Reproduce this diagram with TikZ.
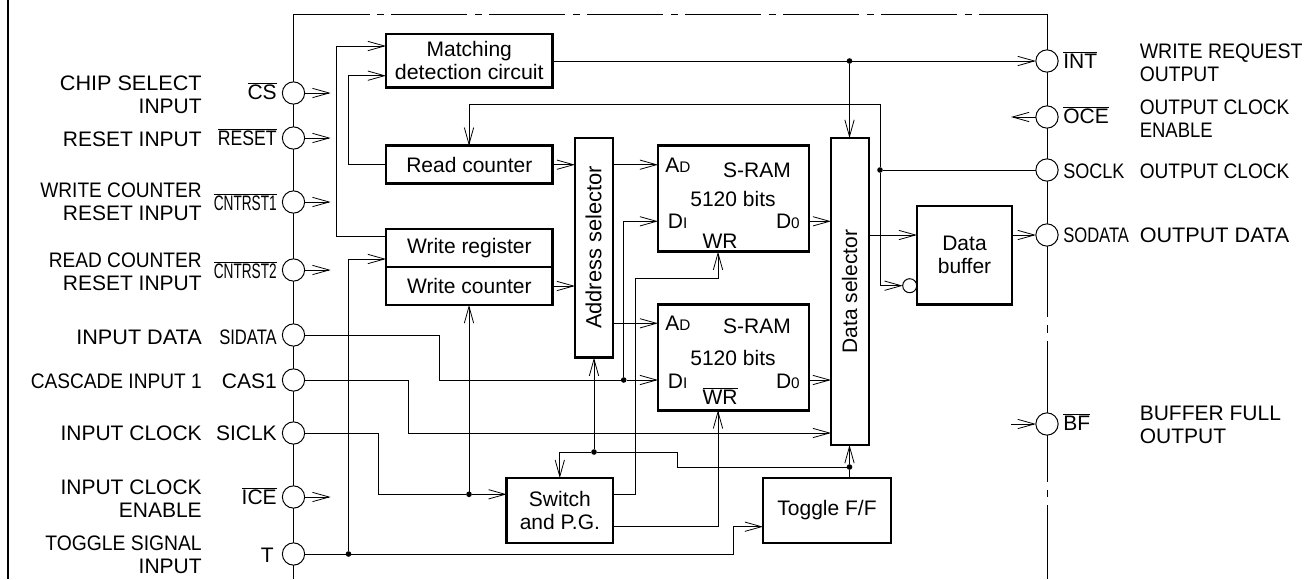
\documentclass[tikz,border=0pt]{standalone}
\usepackage{fontspec}
\setmainfont{Liberation Sans}
\usetikzlibrary{arrows.meta}
\newcommand{\ovl}[1]{$\overline{\hbox{#1}}$}
\newcommand{\sq}[2]{\scalebox{#1}[1]{#2}}
\newcommand{\smf}[1]{{\fontsize{11.5}{12}\selectfont #1}}
\tikzset{
  wire/.style={line width=.75pt},
  arr/.style={wire,-{Straight Barb[length=12.5pt,width=7pt,line width=.6pt]}},
  box/.style={draw,line width=2pt,inner sep=0pt,outer sep=0pt,align=center,fill=white},
  pin/.style={draw,circle,line width=.75pt,fill=white,minimum size=16.7pt,inner sep=0pt,outer sep=0pt},
  inv/.style={draw,circle,line width=.75pt,fill=white,minimum size=10.5pt,inner sep=0pt,outer sep=0pt},
  dot/.style={circle,fill=black,minimum size=4.2pt,inner sep=0pt,outer sep=0pt},
  lblr/.style={anchor=east,align=right,inner sep=0pt},
  lbll/.style={anchor=west,align=left,inner sep=0pt},
  txt/.style={inner sep=0pt},
}
\newcommand{\bx}[6]{%
  \pgfmathsetmacro\bw{(#4-#2)*.75}\pgfmathsetmacro\bh{(#5-#3)*.75}%
  \node[box,minimum width=\bw pt,minimum height=\bh pt] (#1) at ({(#2+#4)/2},{(#3+#5)/2}) {#6};}
\begin{document}
\begin{tikzpicture}[x=.75pt,y=-.75pt,font=\fontsize{15.75}{17.25}\selectfont]
\useasboundingbox[fill=white] (0,0) rectangle (1313,579);
% frame
\coordinate (fa) at (8,0); \coordinate (fb) at (8,579);
\draw[line width=2pt] (fa) -- (fb);
% chip outline
\coordinate (cTL) at (293.5,14); \coordinate (cBL) at (293.5,579); \coordinate (cTR) at (1047,14);
\draw[wire] (cBL) -- (cTL);
\draw[wire,dash pattern=on 57pt off 5.6pt on 5.25pt off 5.6pt] (cTL) -- (cTR);
\coordinate (r1) at (1047,317); \coordinate (r2) at (1047,325); \coordinate (r3) at (1047,333);
\coordinate (r4) at (1047,341); \coordinate (r5) at (1047,482); \coordinate (r6) at (1047,490);
\coordinate (r7) at (1047,497); \coordinate (r8) at (1047,505); \coordinate (r9) at (1047,579);
\draw[wire] (cTR) -- (r1) (r2) -- (r3) (r4) -- (r5) (r6) -- (r7) (r8) -- (r9);
% pins
\node[pin] (pCS) at (293.5,93) {};
\node[pin] (pRES) at (293.5,138) {};
\node[pin] (pC1) at (293.5,202) {};
\node[pin] (pC2) at (293.5,270) {};
\node[pin] (pSID) at (293.5,335) {};
\node[pin] (pCAS) at (293.5,380) {};
\node[pin] (pSIC) at (293.5,433) {};
\node[pin] (pICE) at (293.5,497) {};
\node[pin] (pT) at (293.5,554) {};
\node[pin] (pINT) at (1047,61) {};
\node[pin] (pOCE) at (1047,117) {};
\node[pin] (pSOC) at (1047,170) {};
\node[pin] (pSOD) at (1047,235) {};
\node[pin] (pBF) at (1047,424) {};
% blocks
\bx{match}{386}{34}{552.6}{87.7}{Matching\\\sq{1.02}{detection circuit}}
\bx{rcnt}{386}{145.7}{552.6}{183.7}{Read counter}
\bx{wreg}{386}{229}{552.6}{267}{Write register}
\bx{wcnt}{386}{267}{552.6}{305}{Write counter}
\bx{asel}{575}{138}{613}{357.7}{}
\bx{ram1}{658}{145.7}{809}{251.7}{}
\bx{ram2}{658}{304.7}{809}{410.3}{}
\bx{dsel}{831}{138}{869}{445}{}
\bx{dbuf}{917}{206}{1012}{304.7}{Data\\buffer}
\bx{swpg}{506.7}{478}{613}{543}{Switch\\and P.G.}
\bx{togg}{763}{478}{891}{543}{Toggle F/F}
\node[txt,rotate=90] (aselT) at (593.5,247.5) {\fontsize{16.4}{17}\selectfont Address selector};
\node[txt,rotate=90] (dselT) at (849.5,291.7) {Data selector};
\node[inv] (bub) at (909.7,285.7) {};
% junction coordinates
\coordinate (mA) at (386,46); \coordinate (mB) at (386,75.7);
\coordinate (wA) at (386,236.3); \coordinate (wB) at (386,259);
\coordinate (vA) at (336.7,0); \coordinate (vB) at (348.5,0);
\coordinate (aW) at (575,286); \coordinate (aR1) at (613,164.7); \coordinate (aR2) at (613,323.3);
\coordinate (dT) at (849.5,138); \coordinate (dB) at (849.5,445);
\coordinate (dC) at (831,433); \coordinate (d1) at (831,221.3); \coordinate (d2) at (831,380);
\coordinate (dO) at (869,235); \coordinate (rT) at (469,145.7);
\coordinate (fbR) at (880,104.3);
\coordinate (ram1A) at (658,164.7); \coordinate (ram2A) at (658,323.3);
\coordinate (ram1D) at (658,221.3); \coordinate (ram2D) at (658,380);
\coordinate (ram1O) at (809,221.3); \coordinate (ram2O) at (809,380);
\coordinate (ram1W) at (718,251.7); \coordinate (ram2W) at (718,410.3);
\coordinate (swA) at (506.7,494.3); \coordinate (swO1) at (613,494.3); \coordinate (swO2) at (613,526.7);
\coordinate (swT) at (559.8,478); \coordinate (tgA) at (763,526.7);
\coordinate (tgT) at (849.5,478); \coordinate (bufI) at (917,235); \coordinate (bufO) at (1012,235);
\coordinate (oceE) at (1011,117); \coordinate (bfE) at (1011,424);
\coordinate (aB) at (594,357.7); \coordinate (wcB) at (469,305);
% dots
\node[dot] (jM) at (849.5,61) {};
\node[dot] (jSC) at (880,170) {};
\node[dot] (jT) at (348.5,554) {};
\node[dot] (jD) at (623.7,380) {};
\node[dot] (jCk) at (469,494.3) {};
\node[dot] (jSw) at (594,452) {};
\node[dot] (jTg) at (849.5,467) {};
% stubs
\foreach \p in {pCS,pRES,pC1,pC2,pICE}
  \draw[arr] (\p.east) -- ++(26,0);
\draw[arr] (pOCE.west) -- (oceE);
\draw[arr] (bfE) -- (pBF.west);
% connectors
\draw[arr] (wA) -| (vA |- mA) -- (mA);
\draw[arr] (rcnt.west) -- ++(-38,0) |- (mB);
\draw[arr] (jT) -- (vB |- wB) -- (wB);
\draw[wire] (pT.east) -- (jT);
\draw[arr] (jT) -- (733,554) |- (tgA);
\draw[wire] (match.east |- jM) -- (jM);
\draw[arr] (jM) -- (pINT.west);
\draw[arr] (jM) -- (dT);
\draw[arr] (jSC |- bub) -- (bub.west);
\draw[wire] (fbR) -- (jSC);
\draw[wire] (jSC) -- (jSC |- bub);
\draw[arr] (fbR) -- (rT |- fbR) -- (rT);
\draw[wire] (pSOC.west) -- (jSC);
\draw[arr] (rcnt.east) -- (rcnt.east -| asel.west);
\draw[arr] (wcnt.east) -- (aW);
\draw[arr] (aR1) -- (ram1A);
\draw[arr] (aR2) -- (ram2A);
\draw[wire] (pSID.east) -- (439,335) -- (439,380) -- (jD);
\draw[arr] (jD) -- (ram2D);
\draw[arr] (jD) |- (ram1D);
\draw[arr] (pCAS.east) -- (408.7,380) |- (dC);
\draw[wire] (pSIC.east) -- (378.4,433) |- (jCk);
\draw[arr] (jCk) -- (swA);
\draw[arr] (jCk) -- (wcB);
\draw[arr] (jSw) -- (aB);
\draw[arr] (jSw) -- (jSw -| swT) -- (swT);
\draw[wire] (jSw) -- (677.4,452) |- (jTg);
\draw[arr] (jTg) -- (dB);
\draw[wire] (tgT) -- (jTg);
\draw[arr] (swO1) -- (635.5,494.3) |- (718,278.3) -- (ram1W);
\draw[arr] (swO2) -| (ram2W);
\draw[arr] (ram1O) -- (d1);
\draw[arr] (ram2O) -- (d2);
\draw[arr] (dO) -- (bufI);
\draw[arr] (bufO) -- (pSOD.west);
% RAM texts
\node[txt,anchor=west] (t1a) at (665,165.7) {A\smf{D}};
\node[txt] (t1b) at (757,170.7) {S-RAM};
\node[txt] (t1c) at (733,199) {5120 bits};
\node[txt,anchor=west] (t1d) at (667.7,221.7) {D\smf{I}};
\node[txt,anchor=east] (t1e) at (800,221.7) {D\smf{0}};
\node[txt] (t1f) at (720,241.7) {WR};
\node[txt,anchor=west] (t2a) at (665,323) {A\smf{D}};
\node[txt] (t2b) at (757,326) {S-RAM};
\node[txt] (t2c) at (733,357.7) {5120 bits};
\node[txt,anchor=west] (t2d) at (667.7,381.7) {D\smf{I}};
\node[txt,anchor=east] (t2e) at (800,381.7) {D\smf{0}};
\node[txt] (t2f) at (720,396) {\ovl{WR}};
% left function labels
\node[lblr] (l1) at (202,94.3) {\sq{1.03}{CHIP SELECT}\\INPUT};
\node[lblr] (l2) at (202,139) {RESET INPUT};
\node[lblr] (l3) at (202,202) {\sq{.91}{WRITE COUNTER}\\RESET INPUT};
\node[lblr] (l4) at (202,272) {\sq{.91}{READ COUNTER}\\RESET INPUT};
\node[lblr] (l5) at (202,337) {\sq{1.03}{INPUT DATA}};
\node[lblr] (l6) at (202,381) {\sq{.91}{CASCADE INPUT 1}};
\node[lblr] (l7) at (202,433) {INPUT CLOCK};
\node[lblr] (l8) at (202,499) {INPUT CLOCK\\ENABLE};
\node[lblr] (l9) at (202,555) {\sq{.92}{TOGGLE SIGNAL}\\INPUT};
% left pin names
\node[lblr] (n1) at (277,91) {\ovl{CS}};
\node[lblr] (n2) at (277,137) {\sq{.84}{\ovl{RESET}}};
\node[lblr] (n3) at (277,202) {\sq{.65}{\ovl{CNTRST1}}};
\node[lblr] (n4) at (277,270) {\sq{.65}{\ovl{CNTRST2}}};
\node[lblr] (n5) at (277,337) {\sq{.79}{SIDATA}};
\node[lblr] (n6) at (277,381) {CAS1};
\node[lblr] (n7) at (277,433) {SICLK};
\node[lblr] (n8) at (277,496) {\ovl{ICE}};
\node[lblr] (n9) at (274,555) {T};
% right pin names
\node[lbll] (m1) at (1063,60) {\ovl{INT}};
\node[lbll] (m2) at (1063,115) {\ovl{OCE}};
\node[lbll] (m3) at (1063,171) {\sq{.86}{SOCLK}};
\node[lbll] (m4) at (1063,235) {\sq{.79}{SODATA}};
\node[lbll] (m5) at (1063,422) {\ovl{BF}};
% right function labels
\node[lbll] (o1) at (1139.5,62.3) {\sq{.93}{WRITE REQUEST}\\\sq{.92}{OUTPUT}};
\node[lbll] (o2) at (1139.5,118.3) {\sq{.91}{OUTPUT CLOCK}\\\sq{.88}{ENABLE}};
\node[lbll] (o3) at (1139.5,171.7) {\sq{.91}{OUTPUT CLOCK}};
\node[lbll] (o4) at (1139.5,235) {\sq{1.03}{OUTPUT DATA}};
\node[lbll] (o5) at (1139.5,425) {BUFFER FULL\\OUTPUT};
\end{tikzpicture}
\end{document}
